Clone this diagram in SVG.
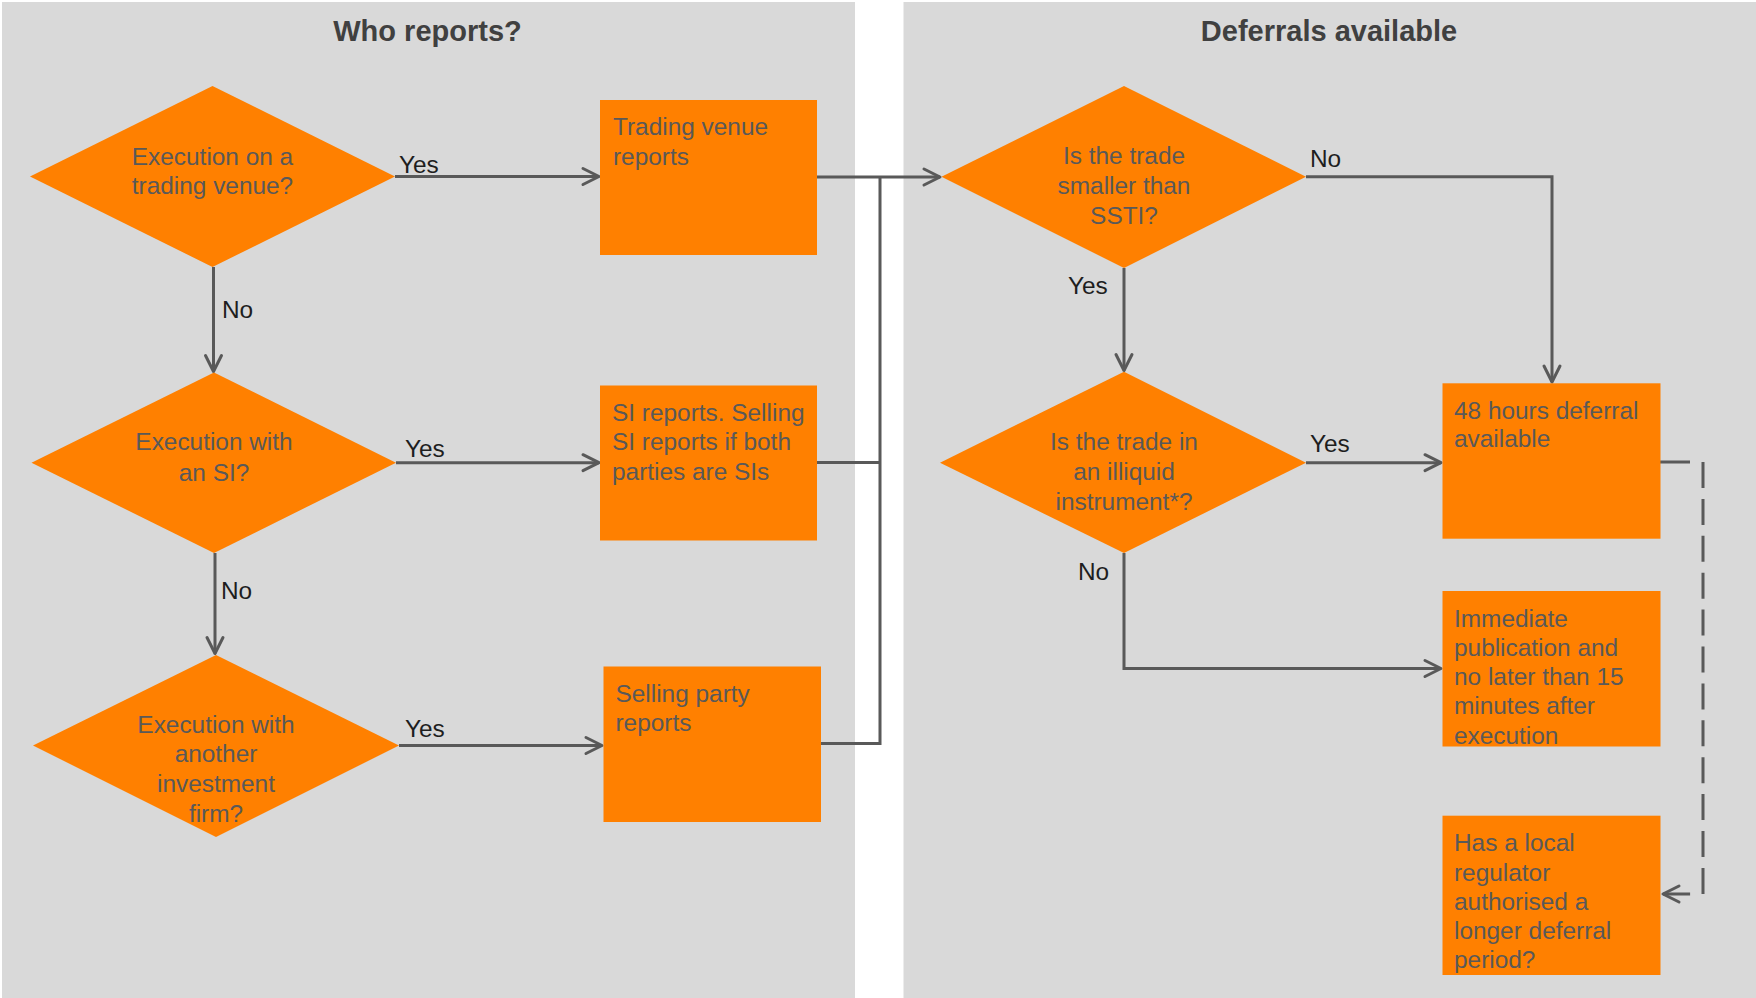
<svg xmlns="http://www.w3.org/2000/svg" width="1756" height="998" viewBox="0 0 1756 998">
  <style>
    .panel { fill: #d9d9d9; }
    .title { font-family: "Liberation Sans", Arial, sans-serif; font-size: 29px; font-weight: bold; fill: #404040; text-anchor: middle; }
    .shape { fill: #ff8000; }
    .txt { font-family: "Liberation Sans", Arial, sans-serif; font-size: 24.4px; fill: #595959; }
    .mid { text-anchor: middle; }
    .lbl { font-family: "Liberation Sans", Arial, sans-serif; font-size: 24.4px; fill: #1e1e1e; }
    .wire { fill: none; stroke: #595959; stroke-width: 3; }
    .dash { stroke-dasharray: 30 13 26 10.9 26 10.9 26 10.9 26 10.9 26 10.9 26 10.9 26 10.9 26 10.9 26 10.9 26 10.9 26 10.9 26 13 40 100; }
  </style>
  <defs>
    <marker id="chev" markerUnits="userSpaceOnUse" markerWidth="24" markerHeight="24" viewBox="-20 -12 24 24" refX="0" refY="0" orient="auto">
      <path d="M-16,-8 L0,0 L-16,8" fill="none" stroke="#595959" stroke-width="3" stroke-linecap="round" stroke-linejoin="round"/>
    </marker>
  </defs>

  <rect width="1756" height="998" fill="#ffffff"/>

  <!-- panels -->
  <g id="panel-who">
    <rect class="panel" x="2" y="2" width="853" height="996"/>
    <text class="title" x="427.5" y="40.5">Who reports?</text>
  </g>
  <g id="panel-deferrals">
    <rect class="panel" x="903.5" y="2" width="852.5" height="996"/>
    <text class="title" x="1329" y="40.5">Deferrals available</text>
  </g>

  <!-- connectors -->
  <g id="connectors">
    <path class="wire" d="M395,176.5 H599" marker-end="url(#chev)"/>
    <path class="wire" d="M213.5,267 V371.5" marker-end="url(#chev)"/>
    <path class="wire" d="M396,462.7 H599" marker-end="url(#chev)"/>
    <path class="wire" d="M215,553 V653.5" marker-end="url(#chev)"/>
    <path class="wire" d="M399,745.5 H602" marker-end="url(#chev)"/>
    <path class="wire" d="M817,462.5 H880 M821,743.5 H880 V177"/>
    <path class="wire" d="M817,177 H940" marker-end="url(#chev)"/>
    <path class="wire" d="M1306,176.7 H1552 V382" marker-end="url(#chev)"/>
    <path class="wire" d="M1124,268 V370.5" marker-end="url(#chev)"/>
    <path class="wire" d="M1306,462.7 H1441" marker-end="url(#chev)"/>
    <path class="wire" d="M1124,553 V668.5 H1441" marker-end="url(#chev)"/>
    <path class="wire dash" d="M1660,462 H1703 V894 H1663" marker-end="url(#chev)"/>

    <text class="lbl" x="399" y="173">Yes</text>
    <text class="lbl" x="222" y="317.5">No</text>
    <text class="lbl" x="405" y="457">Yes</text>
    <text class="lbl" x="221" y="599">No</text>
    <text class="lbl" x="405" y="737">Yes</text>
    <text class="lbl" x="1310" y="167">No</text>
    <text class="lbl" x="1068" y="294">Yes</text>
    <text class="lbl" x="1310" y="452">Yes</text>
    <text class="lbl" x="1078" y="580">No</text>
  </g>

  <!-- who reports -->
  <g id="q-venue">
    <polygon class="shape" points="30,176.5 212.5,86 395,176.5 212.5,267"/>
    <text class="txt mid" x="212.5" y="165">Execution on a</text>
    <text class="txt mid" x="212.5" y="193.5">trading venue?</text>
  </g>
  <g id="q-si">
    <polygon class="shape" points="31.5,462.7 214,372.5 396,462.7 214,553"/>
    <text class="txt mid" x="214" y="450">Execution with</text>
    <text class="txt mid" x="214" y="481">an SI?</text>
  </g>
  <g id="q-firm">
    <polygon class="shape" points="33,745.5 216,655 399,745.5 216,837"/>
    <text class="txt mid" x="216" y="733">Execution with</text>
    <text class="txt mid" x="216" y="762">another</text>
    <text class="txt mid" x="216" y="791.5">investment</text>
    <text class="txt mid" x="216" y="821.5">firm?</text>
  </g>
  <g id="r-venue">
    <rect class="shape" x="600" y="100" width="217" height="155"/>
    <text class="txt" x="613" y="135">Trading venue</text>
    <text class="txt" x="613" y="164.5">reports</text>
  </g>
  <g id="r-si">
    <rect class="shape" x="600" y="385.5" width="217" height="155"/>
    <text class="txt" x="612" y="420.7">SI reports. Selling</text>
    <text class="txt" x="612" y="450.3">SI reports if both</text>
    <text class="txt" x="612" y="480">parties are SIs</text>
  </g>
  <g id="r-seller">
    <rect class="shape" x="603.5" y="666.5" width="217.5" height="155.5"/>
    <text class="txt" x="615.5" y="701.7">Selling party</text>
    <text class="txt" x="615.5" y="730.5">reports</text>
  </g>

  <!-- deferrals -->
  <g id="q-ssti">
    <polygon class="shape" points="941.5,176.7 1124,86 1306,176.7 1124,268"/>
    <text class="txt mid" x="1124" y="164">Is the trade</text>
    <text class="txt mid" x="1124" y="193.5">smaller than</text>
    <text class="txt mid" x="1124" y="224">SSTI?</text>
  </g>
  <g id="q-illiquid">
    <polygon class="shape" points="940,462.7 1124,371.7 1306,462.7 1124,553"/>
    <text class="txt mid" x="1124" y="450">Is the trade in</text>
    <text class="txt mid" x="1124" y="480">an illiquid</text>
    <text class="txt mid" x="1124" y="510">instrument*?</text>
  </g>
  <g id="r-48h">
    <rect class="shape" x="1442.5" y="383.3" width="218" height="155.4"/>
    <text class="txt" x="1454" y="418.5">48 hours deferral</text>
    <text class="txt" x="1454" y="447.3">available</text>
  </g>
  <g id="r-immediate">
    <rect class="shape" x="1442.5" y="591" width="218" height="155.5"/>
    <text class="txt" x="1454" y="626.7">Immediate</text>
    <text class="txt" x="1454" y="655.6">publication and</text>
    <text class="txt" x="1454" y="684.5">no later than 15</text>
    <text class="txt" x="1454" y="714.3">minutes after</text>
    <text class="txt" x="1454" y="744">execution</text>
  </g>
  <g id="r-regulator">
    <rect class="shape" x="1442.5" y="815.7" width="218" height="159.3"/>
    <text class="txt" x="1454" y="851.3">Has a local</text>
    <text class="txt" x="1454" y="880.5">regulator</text>
    <text class="txt" x="1454" y="910">authorised a</text>
    <text class="txt" x="1454" y="938.8">longer deferral</text>
    <text class="txt" x="1454" y="968.2">period?</text>
  </g>
</svg>
